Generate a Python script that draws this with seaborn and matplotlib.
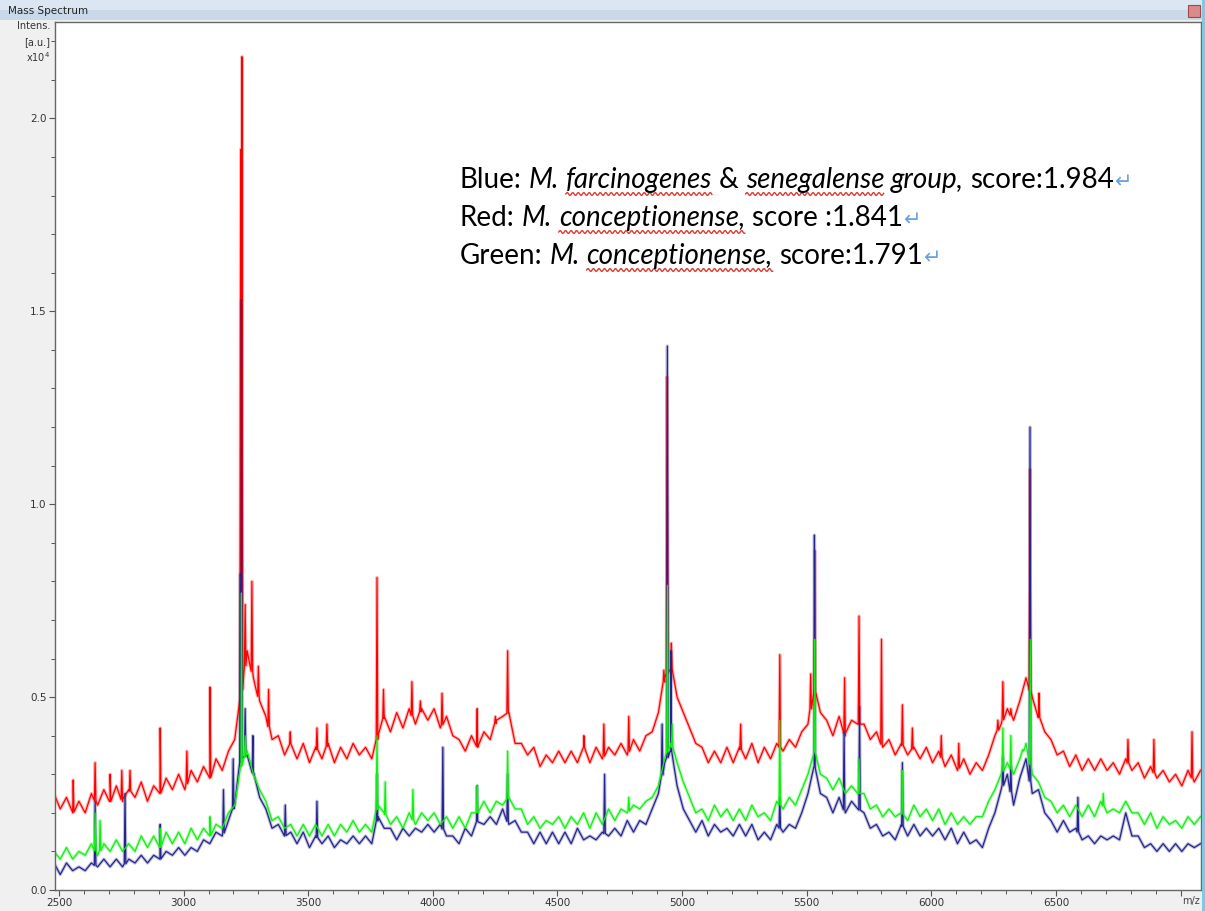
import numpy as np
import pandas as pd
import seaborn as sns
import matplotlib
matplotlib.use("Agg")
import matplotlib.pyplot as plt
from matplotlib.lines import Line2D
from matplotlib.patches import Rectangle
from matplotlib.ticker import MultipleLocator, FormatStrFormatter, FuncFormatter
from matplotlib.transforms import IdentityTransform

# spectra baselines, one value every 25 m/z starting at 2480 (intensity x10^4)
mz_start = 2480
mz_step = 25

red_base = [
    0.25, 0.21, 0.24, 0.20, 0.23, 0.20, 0.25, 0.22, 0.26, 0.23,
    0.27, 0.23, 0.26, 0.24, 0.28, 0.23, 0.27, 0.25, 0.29, 0.26,
    0.30, 0.26, 0.31, 0.28, 0.32, 0.29, 0.34, 0.31, 0.36, 0.39,
    0.50, 0.62, 0.55, 0.49, 0.45, 0.39, 0.40, 0.35, 0.38, 0.34,
    0.38, 0.33, 0.37, 0.34, 0.38, 0.33, 0.37, 0.34, 0.38, 0.35,
    0.37, 0.34, 0.40, 0.45, 0.41, 0.46, 0.42, 0.47, 0.43, 0.47,
    0.44, 0.47, 0.42, 0.45, 0.40, 0.39, 0.36, 0.40, 0.37, 0.41,
    0.39, 0.44, 0.45, 0.46, 0.38, 0.38, 0.35, 0.37, 0.32, 0.35,
    0.33, 0.36, 0.33, 0.36, 0.33, 0.37, 0.33, 0.37, 0.34, 0.37,
    0.35, 0.38, 0.35, 0.39, 0.36, 0.40, 0.41, 0.46, 0.55, 0.58,
    0.50, 0.46, 0.42, 0.38, 0.37, 0.33, 0.36, 0.33, 0.37, 0.33,
    0.37, 0.34, 0.38, 0.33, 0.37, 0.34, 0.38, 0.36, 0.39, 0.37,
    0.41, 0.43, 0.52, 0.46, 0.44, 0.40, 0.45, 0.40, 0.44, 0.43,
    0.43, 0.39, 0.41, 0.37, 0.39, 0.35, 0.38, 0.35, 0.37, 0.34,
    0.37, 0.33, 0.36, 0.32, 0.35, 0.31, 0.34, 0.30, 0.33, 0.31,
    0.35, 0.40, 0.43, 0.47, 0.44, 0.49, 0.55, 0.50, 0.45, 0.41,
    0.39, 0.35, 0.36, 0.32, 0.35, 0.31, 0.34, 0.31, 0.34, 0.31,
    0.33, 0.30, 0.34, 0.31, 0.33, 0.29, 0.32, 0.29, 0.31, 0.28,
    0.30, 0.27, 0.31, 0.28, 0.31,
]
green_base = [
    0.10, 0.08, 0.11, 0.08, 0.10, 0.09, 0.12, 0.09, 0.12, 0.10,
    0.13, 0.10, 0.12, 0.10, 0.14, 0.11, 0.14, 0.11, 0.15, 0.12,
    0.15, 0.12, 0.16, 0.13, 0.16, 0.14, 0.17, 0.16, 0.20, 0.22,
    0.32, 0.36, 0.30, 0.26, 0.23, 0.18, 0.19, 0.16, 0.17, 0.14,
    0.17, 0.14, 0.17, 0.14, 0.17, 0.14, 0.17, 0.15, 0.18, 0.15,
    0.17, 0.15, 0.22, 0.20, 0.17, 0.19, 0.16, 0.20, 0.17, 0.20,
    0.18, 0.20, 0.17, 0.19, 0.16, 0.19, 0.16, 0.20, 0.20, 0.23,
    0.20, 0.23, 0.22, 0.24, 0.21, 0.21, 0.17, 0.19, 0.16, 0.18,
    0.17, 0.19, 0.16, 0.19, 0.17, 0.20, 0.16, 0.20, 0.17, 0.21,
    0.18, 0.21, 0.20, 0.22, 0.21, 0.23, 0.24, 0.27, 0.34, 0.38,
    0.33, 0.28, 0.24, 0.20, 0.21, 0.18, 0.22, 0.19, 0.21, 0.18,
    0.21, 0.18, 0.22, 0.19, 0.20, 0.18, 0.23, 0.21, 0.24, 0.22,
    0.26, 0.30, 0.36, 0.30, 0.29, 0.26, 0.29, 0.25, 0.27, 0.25,
    0.25, 0.21, 0.22, 0.19, 0.21, 0.19, 0.20, 0.18, 0.22, 0.19,
    0.21, 0.18, 0.21, 0.17, 0.20, 0.17, 0.19, 0.17, 0.19, 0.19,
    0.23, 0.26, 0.30, 0.33, 0.30, 0.34, 0.38, 0.30, 0.28, 0.24,
    0.23, 0.20, 0.22, 0.19, 0.22, 0.19, 0.22, 0.19, 0.23, 0.20,
    0.21, 0.20, 0.23, 0.20, 0.20, 0.17, 0.20, 0.16, 0.19, 0.17,
    0.18, 0.16, 0.19, 0.17, 0.19,
]
blue_base = [
    0.07, 0.04, 0.07, 0.05, 0.06, 0.05, 0.07, 0.06, 0.08, 0.06,
    0.08, 0.06, 0.08, 0.07, 0.09, 0.07, 0.09, 0.08, 0.10, 0.09,
    0.11, 0.09, 0.11, 0.10, 0.13, 0.12, 0.15, 0.14, 0.18, 0.22,
    0.34, 0.35, 0.30, 0.24, 0.21, 0.16, 0.17, 0.14, 0.15, 0.12,
    0.15, 0.11, 0.14, 0.12, 0.14, 0.11, 0.13, 0.12, 0.14, 0.12,
    0.14, 0.12, 0.19, 0.16, 0.16, 0.13, 0.16, 0.14, 0.16, 0.15,
    0.17, 0.15, 0.17, 0.14, 0.14, 0.12, 0.16, 0.14, 0.18, 0.17,
    0.19, 0.17, 0.21, 0.17, 0.18, 0.15, 0.15, 0.12, 0.15, 0.12,
    0.15, 0.12, 0.15, 0.12, 0.16, 0.13, 0.14, 0.13, 0.15, 0.14,
    0.16, 0.14, 0.18, 0.15, 0.18, 0.17, 0.21, 0.25, 0.33, 0.36,
    0.27, 0.21, 0.18, 0.15, 0.18, 0.14, 0.17, 0.15, 0.16, 0.14,
    0.17, 0.14, 0.17, 0.13, 0.15, 0.13, 0.17, 0.15, 0.17, 0.16,
    0.20, 0.25, 0.32, 0.25, 0.24, 0.20, 0.24, 0.20, 0.23, 0.21,
    0.20, 0.16, 0.17, 0.14, 0.15, 0.13, 0.17, 0.14, 0.17, 0.14,
    0.16, 0.14, 0.16, 0.13, 0.16, 0.12, 0.15, 0.12, 0.13, 0.11,
    0.16, 0.20, 0.26, 0.30, 0.22, 0.29, 0.34, 0.25, 0.26, 0.20,
    0.18, 0.15, 0.18, 0.15, 0.16, 0.13, 0.14, 0.12, 0.14, 0.13,
    0.14, 0.13, 0.20, 0.14, 0.14, 0.11, 0.12, 0.10, 0.12, 0.10,
    0.12, 0.10, 0.12, 0.11, 0.12,
]

# peaks: m/z and top intensity
red_peak_mz = [2557, 2645, 2705, 2752, 2785, 2906, 3013, 3106, 3229, 3234,
               3247, 3274, 3300, 3341, 3428, 3535, 3575, 3776, 3802, 3916,
               3950, 4037, 4178, 4251, 4300, 4606, 4686, 4786, 4927, 4940,
               4957, 5235, 5392, 5516, 5532, 5652, 5710, 5800, 5884, 5924,
               6040, 6110, 6267, 6287, 6319, 6396, 6432, 6789, 6893, 7046]
red_peak_int = [0.285, 0.33, 0.30, 0.31, 0.31, 0.42, 0.36, 0.526, 1.92, 2.16,
                0.74, 0.80, 0.58, 0.52, 0.41, 0.42, 0.43, 0.81, 0.52, 0.54,
                0.49, 0.51, 0.47, 0.45, 0.62, 0.40, 0.43, 0.45, 0.57, 1.33,
                0.64, 0.43, 0.61, 0.56, 0.88, 0.55, 0.71, 0.65, 0.48, 0.42,
                0.40, 0.38, 0.44, 0.54, 0.47, 1.09, 0.51, 0.39, 0.39, 0.41]

blue_peak_mz = [2645, 2765, 2906, 3160, 3199, 3228, 3232, 3247, 3278, 3408,
                3535, 3776, 4040, 4178, 4300, 4689, 4920, 4941, 4955, 5392,
                5531, 5650, 5712, 5884, 6287, 6319, 6396, 6588]
blue_peak_int = [0.23, 0.25, 0.17, 0.26, 0.34, 0.82, 1.53, 0.47, 0.40, 0.22,
                 0.23, 0.30, 0.37, 0.27, 0.30, 0.30, 0.43, 1.41, 0.62, 0.24,
                 0.92, 0.41, 0.475, 0.33, 0.345, 0.32, 1.20, 0.24]

green_peak_mz = [2645, 2665, 2906, 3106, 3232, 3247, 3776, 3809, 3920, 4178,
                 4300, 4786, 4941, 4960, 5392, 5532, 5710, 5884, 6287, 6319,
                 6370, 6397, 6690]
green_peak_int = [0.20, 0.18, 0.16, 0.19, 0.77, 0.40, 0.40, 0.28, 0.26, 0.27,
                  0.36, 0.24, 0.79, 0.43, 0.44, 0.65, 0.34, 0.31, 0.42, 0.40,
                  0.36, 0.65, 0.25]

series_order = ["Red", "Blue", "Green"]
series_colors = {"Red": "#ff0000", "Blue": "#24248c", "Green": "#11ee11"}


def spectrum(base, peak_mz, peak_int, name):
    grid = mz_start + mz_step * np.arange(len(base))
    pm = np.asarray(peak_mz, dtype=float)
    foot = np.interp(pm, grid, base)
    x = np.concatenate([grid, pm - 3, pm, pm + 3])
    y = np.concatenate([base, foot, peak_int, foot])
    return pd.DataFrame({"mz": x, "intensity": y, "series": name})


df = pd.concat([
    spectrum(red_base, red_peak_mz, red_peak_int, "Red"),
    spectrum(blue_base, blue_peak_mz, blue_peak_int, "Blue"),
    spectrum(green_base, green_peak_mz, green_peak_int, "Green"),
], ignore_index=True)

W, H = 1205, 911
fig = plt.figure(figsize=(W / 100, H / 100), dpi=100, facecolor="#f0f0f0")

# window chrome
fig.add_artist(Rectangle((0, (H - 20) / H), 1, 10 / H, transform=fig.transFigure,
                         facecolor="#c9d9ea", edgecolor="none"))
fig.add_artist(Rectangle((0, (H - 10) / H), 1, 10 / H, transform=fig.transFigure,
                         facecolor="#dbe6f2", edgecolor="none"))
fig.add_artist(Rectangle((1188 / W, (H - 17) / H), 12 / W, 12 / H, transform=fig.transFigure,
                         facecolor="#d98a8a", edgecolor="#a04848", lw=0.8))
fig.add_artist(Rectangle((1202 / W, 0), 3 / W, 1, transform=fig.transFigure,
                         facecolor="#7ccbe6", edgecolor="none"))
fig.text(8 / W, (H - 11) / H, "Mass Spectrum", fontsize=7.5, color="#222",
         va="center", ha="left", family="DejaVu Sans")

ax = fig.add_axes([55 / W, 21 / H, (1201 - 55) / W, (889 - 21) / H])
ax.set_facecolor("white")

# soft halo under the traces, like the blurred screenshot, then the crisp lines
sns.lineplot(data=df, x="mz", y="intensity", hue="series", hue_order=series_order,
             palette=series_colors, estimator=None, sort=True, lw=2.4, alpha=0.28,
             legend=False, ax=ax)
sns.lineplot(data=df, x="mz", y="intensity", hue="series", hue_order=series_order,
             palette=series_colors, estimator=None, sort=True, lw=0.9,
             legend=False, ax=ax)

ax.set_xlim(2484, 7082)
ax.set_ylim(0, 2.25)
ax.set_xlabel("")
ax.set_ylabel("")
ax.xaxis.set_major_locator(MultipleLocator(500))
ax.xaxis.set_minor_locator(MultipleLocator(100))
ax.xaxis.set_major_formatter(FuncFormatter(lambda v, p: "" if v > 6900 else f"{v:.0f}"))
ax.yaxis.set_major_locator(MultipleLocator(0.5))
ax.yaxis.set_minor_locator(MultipleLocator(0.1))
ax.yaxis.set_major_formatter(FormatStrFormatter("%.1f"))
ax.tick_params(which="both", direction="out", colors="#555", labelcolor="#333",
               labelsize=7.5, top=False, right=False)
ax.tick_params(which="major", length=4, width=0.8, pad=2)
ax.tick_params(which="minor", length=3, width=0.7)
for s in ax.spines.values():
    s.set_color("#666")
    s.set_linewidth(1.0)

fig.text(1191 / W, (H - 901) / H, "m/z", fontsize=7, color="#444", ha="center", va="center")
fig.text(50 / W, (H - 26) / H, "Intens.", fontsize=7, color="#333", ha="right", va="center")
fig.text(50 / W, (H - 42) / H, "[a.u.]", fontsize=7, color="#333", ha="right", va="center")
fig.text(50 / W, (H - 57) / H, "x10$^4$", fontsize=7, color="#333", ha="right", va="center")

# annotation lines with italic names and spell-check squiggles
renderer = fig.canvas.get_renderer()
text_size = 20


def space_width(style):
    a = fig.text(0, 0, "n n", fontsize=text_size, family="Lato", style=style)
    b = fig.text(0, 0, "nn", fontsize=text_size, family="Lato", style=style)
    w = a.get_window_extent(renderer).width - b.get_window_extent(renderer).width
    a.remove()
    b.remove()
    return w


gap = {"normal": space_width("normal"), "italic": space_width("italic")}


def write_line(x0, baseline_from_top, pieces):
    x = x0
    y = H - baseline_from_top
    for txt, italic, wavy in pieces:
        style = "italic" if italic else "normal"
        t = fig.text(x / W, y / H, txt, fontsize=text_size, family="Lato", style=style,
                     color="black", ha="left", va="baseline")
        bb = t.get_window_extent(renderer)
        if wavy:
            xs = np.arange(bb.x0, bb.x1, 0.5)
            ys = (y - 6) + 1.4 * np.sin((xs - bb.x0) * 2 * np.pi / 5.5)
            fig.add_artist(Line2D(xs, ys, transform=IdentityTransform(),
                                  color="#e03a2e", lw=1.0))
        x = bb.x1 + gap[style]
    fig.text((x - gap["normal"] + 1) / W, y / H, "\u21b5", fontsize=15,
             family="DejaVu Sans", color="#6aa3e0", ha="left", va="baseline")


write_line(460, 188, [("Blue:", False, False), ("M.", True, False),
                      ("farcinogenes", True, True), ("&", False, False),
                      ("senegalense", True, True), ("group,", True, False),
                      ("score:1.984", False, False)])
write_line(460, 226, [("Red:", False, False), ("M.", True, False),
                      ("conceptionense,", True, True), ("score :1.841", False, False)])
write_line(460, 264, [("Green:", False, False), ("M.", True, False),
                      ("conceptionense,", True, True), ("score:1.791", False, False)])

fig.savefig("out.png", dpi=100, facecolor=fig.get_facecolor())
